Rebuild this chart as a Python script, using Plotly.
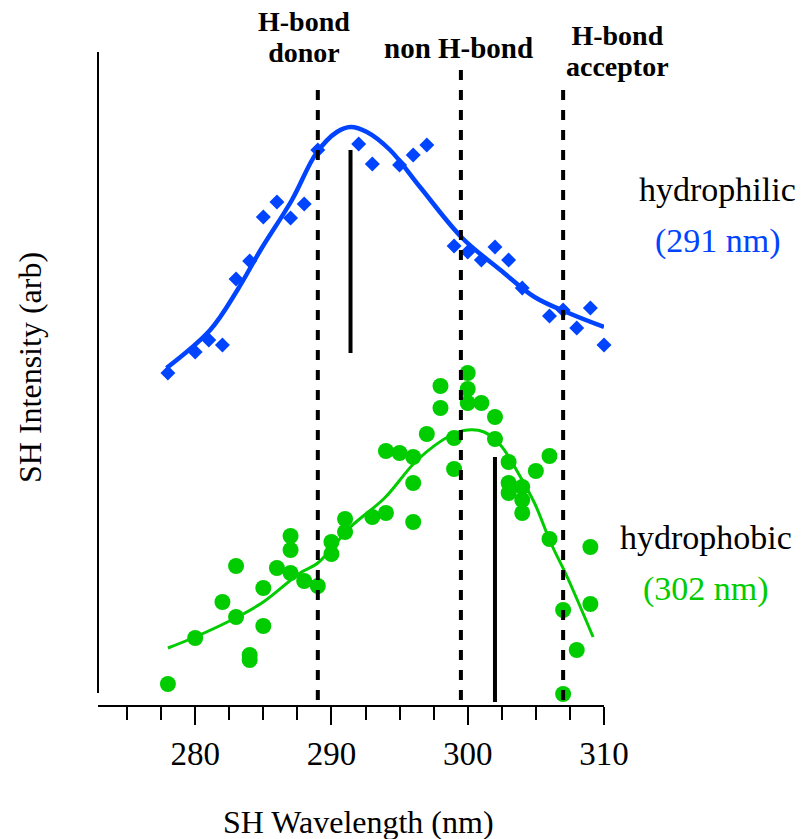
import plotly.graph_objects as go

# ---------------- data ----------------
blue_x = [278, 280, 281, 282, 283, 284, 285, 286, 287, 288, 289, 292, 293, 295, 296, 297,
          299, 300, 301, 302, 303, 304, 306, 307, 308, 309, 310]
blue_y = [3.32, 3.53, 3.65, 3.60, 4.26, 4.44, 4.88, 5.03, 4.87, 5.01, 5.55, 5.61, 5.41, 5.40,
          5.50, 5.60, 4.59, 4.53, 4.45, 4.58, 4.45, 4.17, 3.89, 3.95, 3.77, 3.97, 3.60]

blue_fit_x = [277.9, 281.1, 283.1, 284.8, 287.1, 288.9, 290.4, 291.4, 292.6, 294.3, 296.5,
              299.6, 302.4, 304.9, 307.4, 310.0]
blue_fit_y = [3.37, 3.75, 4.15, 4.55, 5.05, 5.52, 5.73, 5.78, 5.73, 5.55, 5.18, 4.67, 4.35,
              4.08, 3.92, 3.78]

green_x = [278, 280, 282, 283, 283, 284, 284, 285, 285, 286, 287, 287, 287, 288, 289, 290, 290,
           291, 291, 293, 294, 294, 295, 296, 296, 296, 297, 298, 298, 299, 299, 300, 300, 300,
           301, 302, 302, 303, 303, 303, 304, 304, 304, 305, 306, 306, 307, 307, 308, 309, 309]
green_y = [0.21, 0.67, 1.03, 1.39, 0.88, 0.50, 0.45, 1.17, 0.79, 1.37, 1.69, 1.55, 1.32, 1.24,
           1.19, 1.63, 1.51, 1.86, 1.73, 1.88, 1.92, 2.54, 2.52, 2.22, 1.83, 2.48, 2.71, 3.19,
           2.97, 2.67, 2.36, 3.32, 3.16, 3.02, 3.02, 2.88, 2.66, 2.43, 2.22, 2.12, 2.18, 2.05,
           1.92, 2.34, 2.49, 1.66, 0.95, 0.11, 0.55, 1.58, 1.01]

green_fit_x = [278.0, 280.0, 283.1, 285.0, 287.7, 289.0, 291.4, 293.9, 296.3, 298.8, 300.0,
               301.2, 302.4, 303.7, 304.9, 306.1, 307.3, 309.2]
green_fit_y = [0.57, 0.68, 0.88, 1.03, 1.32, 1.42, 1.78, 2.07, 2.45, 2.70, 2.75, 2.73, 2.60,
               2.32, 2.02, 1.62, 1.28, 0.68]

region_x = [289, 299.5, 307]            # H-bond donor / non H-bond / H-bond acceptor
region_top = [6.18, 6.35, 6.18]
peak_x = [291.4, 302.0]                 # hydrophilic / hydrophobic peak markers
peak_low = [3.52, 0.03]
peak_high = [5.55, 2.48]

x_ticks = [280, 290, 300, 310]
x_range = [272.87, 310.0]
y_range = [0, 6.53]

BLUE = "#0044ff"
GREEN = "#00cc00"
FONT = "Liberation Serif, Times New Roman, serif"

W, H = 804, 839
L, R, T, B = 98, 200, 52, 134
PW, PH = W - L - R, H - T - B


def px(xp):
    return (xp - L) / PW


def py(yp):
    return (H - B - yp) / PH


fig = go.Figure()

# dashed region lines
for xv, top in zip(region_x, region_top):
    fig.add_shape(type="line", xref="x", yref="y", x0=xv, x1=xv, y0=0.05, y1=top,
                  line=dict(color="black", width=4, dash="10px,10px"))
# peak lines
for xv, lo, hi in zip(peak_x, peak_low, peak_high):
    fig.add_shape(type="line", xref="x", yref="y", x0=xv, x1=xv, y0=lo, y1=hi,
                  line=dict(color="black", width=4))
# y axis line (does not reach x axis)
fig.add_shape(type="line", xref="paper", yref="y", x0=0, x1=0, y0=0.12, y1=y_range[1],
              line=dict(color="black", width=2))

fig.add_trace(go.Scatter(x=blue_fit_x, y=blue_fit_y, mode="lines",
                         line=dict(color=BLUE, width=4.5, shape="spline", smoothing=1.0),
                         hoverinfo="skip", showlegend=False))
fig.add_trace(go.Scatter(x=blue_x, y=blue_y, mode="markers", cliponaxis=False,
                         marker=dict(symbol="diamond", size=11.5, color=BLUE),
                         showlegend=False, name="hydrophilic"))
fig.add_trace(go.Scatter(x=green_fit_x, y=green_fit_y, mode="lines",
                         line=dict(color=GREEN, width=3, shape="spline", smoothing=1.0),
                         hoverinfo="skip", showlegend=False))
fig.add_trace(go.Scatter(x=green_x, y=green_y, mode="markers", cliponaxis=False,
                         marker=dict(symbol="circle", size=16, color=GREEN),
                         showlegend=False, name="hydrophobic"))

ann = []


def text(s, xp, yp, size, color="black", angle=0):
    ann.append(dict(text=s, x=px(xp), y=py(yp), xref="paper", yref="paper",
                    xanchor="center", yanchor="middle", showarrow=False, textangle=angle,
                    font=dict(family=FONT, size=size, color=color)))


def two_line(a, b, xp, yp, size=28, base=24):
    # tight line spacing: line pitch follows the smaller base font size
    s = ("<span style='font-size:%dpx'><b>%s</b></span><br>"
         "<span style='font-size:%dpx'><b>%s</b></span>") % (size, a, size, b)
    text(s, xp, yp, base)


# top labels
two_line("H-bond", "donor", 304, 37)
text("<b>non H-bond</b>", 458, 48, 29)
two_line("H-bond", "acceptor", 617, 51)
# side labels
text("hydrophilic", 717, 190, 34)
text("(291 nm)", 718, 241, 34, color=BLUE)
text("hydrophobic", 706, 537, 34)
text("(302 nm)", 706, 589, 34, color=GREEN)
# axis titles
text("SH Wavelength (nm)", 358, 822, 32)
text("SH Intensity (arb)", 30, 368, 32, angle=-90)

fig.update_layout(
    width=W, height=H,
    margin=dict(l=L, r=R, t=T, b=B, pad=0),
    paper_bgcolor="white", plot_bgcolor="white",
    showlegend=False,
    annotations=ann,
    xaxis=dict(range=x_range, tickvals=x_ticks, ticks="outside", ticklen=18, tickwidth=2,
               tickcolor="black", showline=True, linewidth=2, linecolor="black",
               showgrid=False, zeroline=False, ticklabelstandoff=0,
               tickfont=dict(family=FONT, size=33, color="black"),
               minor=dict(dtick=2.5, ticks="outside", ticklen=13, tickwidth=2,
                          tickcolor="black", showgrid=False)),
    yaxis=dict(range=y_range, showline=False, showticklabels=False, ticks="",
               showgrid=False, zeroline=False),
)

fig.write_html("out.html")
